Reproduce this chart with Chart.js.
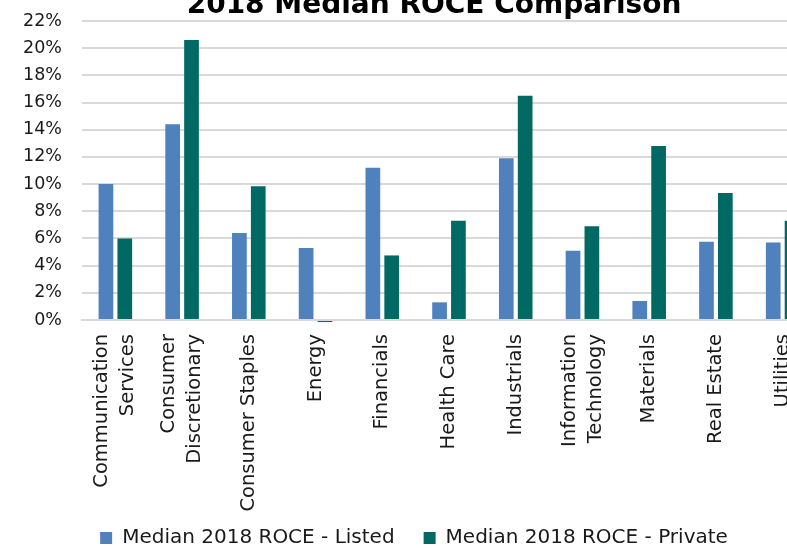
<!DOCTYPE html>
<html>
<head>
<meta charset="utf-8">
<script src="https://cdn.jsdelivr.net/npm/chart.js@4.4.0/dist/chart.umd.min.js"></script>
<style>
  html, body { margin: 0; padding: 0; background: #ffffff; overflow: hidden; width: 787px; height: 548px; }
  #wrap { position: absolute; left: 0; top: 0; width: 830px; height: 558px; }
  canvas { display: block; }
</style>
</head>
<body>
<div id="wrap"><canvas id="c" width="830" height="558"></canvas></div>
<script>
const titleText = '2018 Median ROCE Comparison';
const categories = [
  ['Communication', 'Services'],
  ['Consumer', 'Discretionary'],
  'Consumer Staples',
  'Energy',
  'Financials',
  'Health Care',
  'Industrials',
  ['Information', 'Technology'],
  'Materials',
  'Real Estate',
  'Utilities'
];
const listedLabel = 'Median 2018 ROCE - Listed';
const privateLabel = 'Median 2018 ROCE - Private';
const listedValues = [10.0, 14.4, 6.4, 5.3, 11.2, 1.3, 11.9, 5.1, 1.4, 5.75, 5.7];
const privateValues = [6.0, 20.6, 9.85, -0.15, 4.75, 7.3, 16.5, 6.9, 12.8, 9.35, 7.3];
const yTicks = [0, 2, 4, 6, 8, 10, 12, 14, 16, 18, 20, 22];

const FONT = 'DejaVu Sans';
const TEXT = '#1a1a1a';

const titlePlugin = {
  id: 'cutTitle',
  afterDraw(chart) {
    const ctx = chart.ctx;
    ctx.save();
    ctx.font = 'bold 28px "' + FONT + '"';
    ctx.fillStyle = '#000000';
    ctx.textAlign = 'center';
    ctx.textBaseline = 'alphabetic';
    ctx.fillText(titleText, 434, 13);
    ctx.restore();
  }
};

// Draws the rotated category labels of the x scale, block-centred on each tick
const xLabelPlugin = {
  id: 'xLabels',
  afterDraw(chart) {
    const scale = chart.scales.x;
    const ctx = chart.ctx;
    const lineGap = 26;
    ctx.save();
    ctx.font = '19.5px "' + FONT + '"';
    ctx.fillStyle = TEXT;
    ctx.textAlign = 'right';
    ctx.textBaseline = 'middle';
    const top = scale.top + 14;
    chart.data.labels.forEach((lab, i) => {
      const lines = Array.isArray(lab) ? lab : [lab];
      const x = scale.getPixelForTick(i);
      lines.forEach((line, k) => {
        const off = (k - (lines.length - 1) / 2) * lineGap;
        ctx.save();
        ctx.translate(x + off, top);
        ctx.rotate(-Math.PI / 2);
        ctx.fillText(line, 0, 0);
        ctx.restore();
      });
    });
    ctx.restore();
  }
};

new Chart(document.getElementById('c'), {
  type: 'bar',
  data: {
    labels: categories,
    datasets: [
      { label: listedLabel, data: listedValues, backgroundColor: '#4F81BD', borderWidth: 0, clip: false,
        categoryPercentage: 0.565, barPercentage: 0.78 },
      { label: privateLabel, data: privateValues, backgroundColor: '#006964', borderWidth: 0, clip: false,
        categoryPercentage: 0.565, barPercentage: 0.78 }
    ]
  },
  options: {
    responsive: false,
    animation: false,
    layout: { padding: { top: 21, right: 14, left: 12, bottom: 0 } },
    plugins: {
      title: { display: false },
      tooltip: { enabled: false },
      legend: {
        display: true,
        position: 'bottom',
        labels: {
          boxWidth: 12, boxHeight: 12, padding: 29,
          color: TEXT,
          font: { family: FONT, size: 20 }
        }
      }
    },
    scales: {
      x: {
        grid: { display: false, drawTicks: false },
        border: { display: true, color: '#D9D9D9', width: 2 },
        ticks: { display: false },
        afterFit(scale) {
          scale.height = 179;
          scale.paddingTop = 0; scale.paddingBottom = 0;
          scale.paddingLeft = 0; scale.paddingRight = 0;
        }
      },
      y: {
        min: 0, max: 22,
        afterBuildTicks(scale) { scale.ticks = yTicks.map(v => ({ value: v })); },
        grid: { color: '#D9D9D9', lineWidth: 2, drawTicks: false },
        border: { display: false },
        ticks: {
          padding: 20,
          color: TEXT,
          font: { family: FONT, size: 17.5 },
          callback: v => v + '%'
        },
        afterFit(scale) {
          scale.width = 70;
          scale.paddingTop = 0; scale.paddingBottom = 0;
        }
      }
    }
  },
  plugins: [titlePlugin, xLabelPlugin]
});
</script>
</body>
</html>
